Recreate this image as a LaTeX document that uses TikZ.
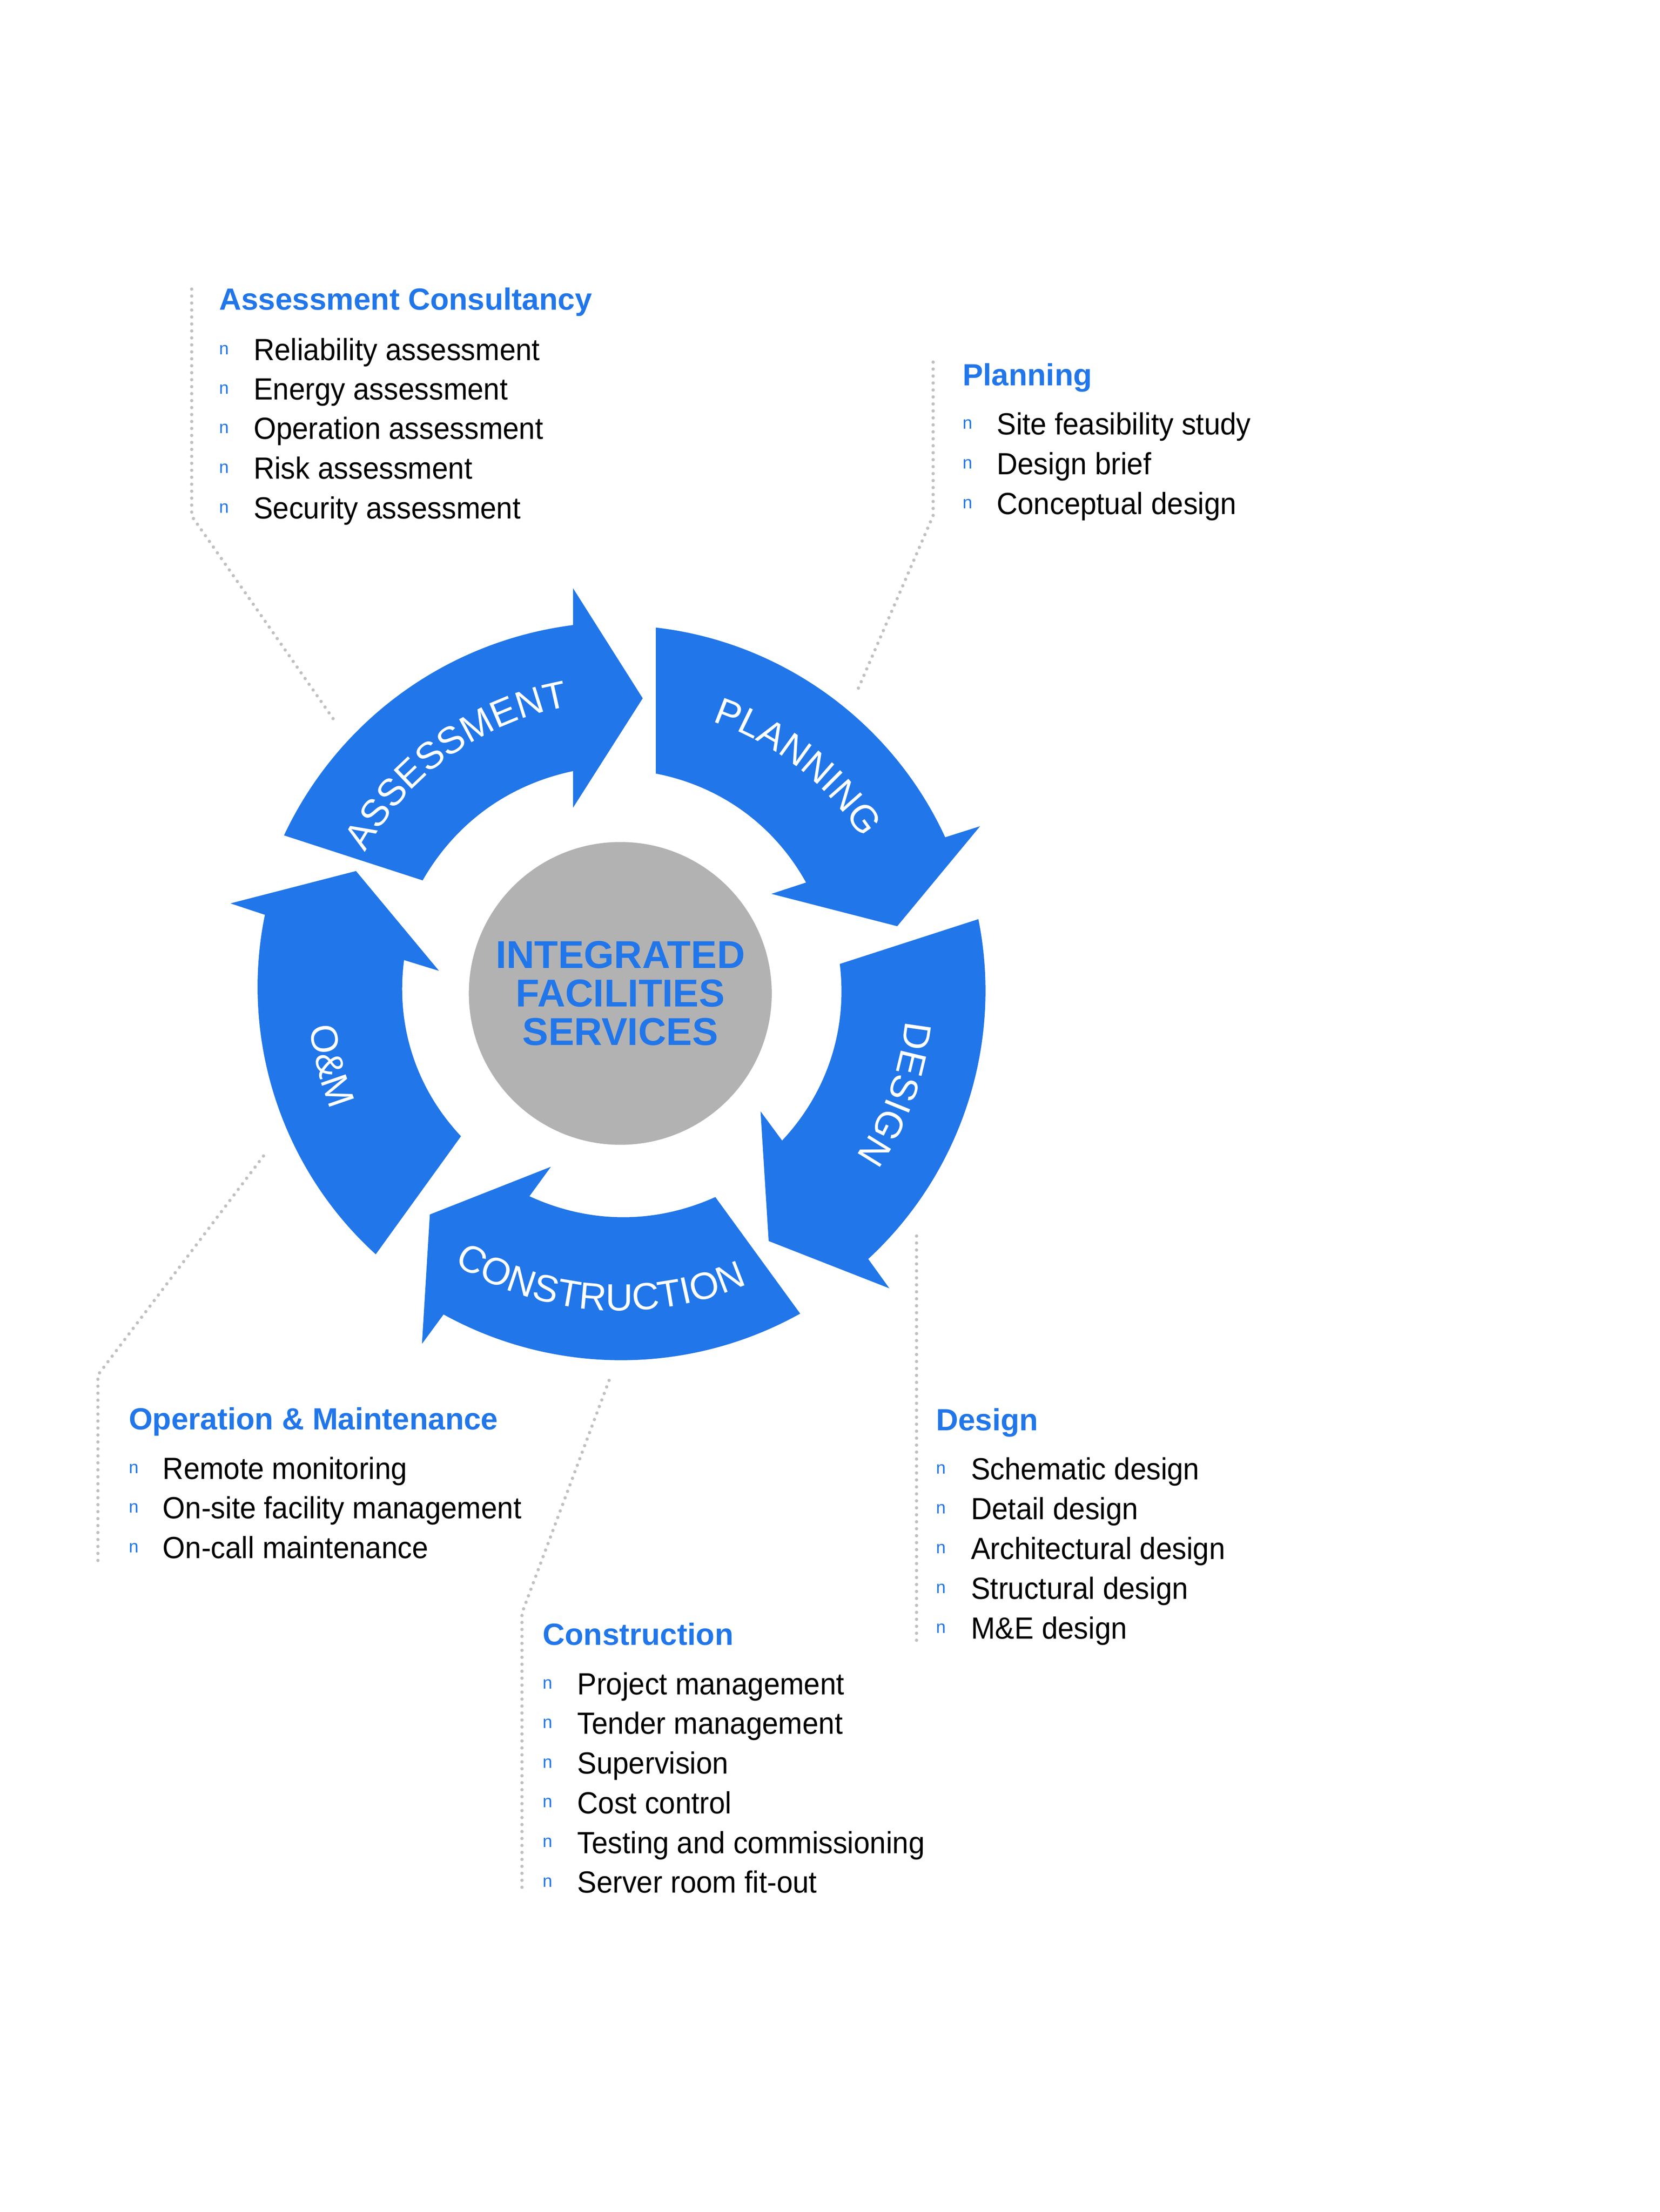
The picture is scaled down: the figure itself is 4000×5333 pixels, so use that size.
\documentclass[tikz,border=0pt]{standalone}
\usepackage{fontspec}
\setmainfont{Liberation Sans}
\newfontfamily\itemfam{Liberation Sans}[FakeStretch=0.945]
\usetikzlibrary{decorations.text}
\definecolor{ifsblue}{RGB}{33,118,233}
\definecolor{ifsgray}{RGB}{178,178,178}
\definecolor{dotgray}{RGB}{192,192,192}
\newcommand\itemfont{\itemfam\fontsize{10.5}{12}\selectfont}
\newcommand\ttlfont{\bfseries\fontsize{10.5}{12}\selectfont}
\newcommand\bulfont{\fontsize{6}{7}\selectfont}
\newcommand\hubfont{\bfseries\fontsize{13.3}{13.16}\selectfont}
\newcommand\arcfont{\fontsize{13}{14}\selectfont}
\begin{document}
\begin{tikzpicture}[x=0.05mm, y=0.05mm,
  item/.style={anchor=base west, inner sep=0pt, font=\itemfont, text=black},
  bul/.style={anchor=base west, inner sep=0pt, font=\bulfont, text=ifsblue},
  ttl/.style={anchor=base west, inner sep=0pt, font=\ttlfont, text=ifsblue},
  arrowshape/.style={fill=ifsblue, draw=none},
  arcin/.style={bend left=#1, looseness=0.91},
  arcout/.style={bend right=#1, looseness=0.91},
  leader/.style={draw=dotgray, line width=1.14pt, line cap=round, dash pattern=on 0pt off 2.39pt},
  hub/.style={circle, fill=ifsgray, minimum size=36.5mm, inner sep=0pt, align=center, text=ifsblue, font=\hubfont},
  arclabel/.style={decorate, decoration={text along path, text={|\arcfont|#1}, text color=white, text align=center}}
]
\fill[white] (0,0) rectangle (4000,-5333);
\useasboundingbox (0,0) rectangle (4000,-5333);
\coordinate (C) at (1495,-2395);

% ---- arrows ----
% Assessment
\fill[arrowshape] (684.5,-2014) -- (1018.6,-2122.5) to[arcin=24.1] (1381,-1859) -- (1381,-1947.5) -- (1549,-1683.5) -- (1381,-1418) -- (1381,-1507) to[arcout=28.75] (684.5,-2014) -- cycle;
% Planning
\fill[arrowshape] (1580.6,-1513) -- (1580.6,-1865) to[arcin=25] (1942.7,-2127.7) -- (1859.3,-2155) -- (2162.4,-2233) -- (2362,-1992) -- (2278,-2018.6) to[arcout=29.4] (1580.6,-1513) -- cycle;
% Design
\fill[arrowshape] (2358,-2216) -- (2024,-2324) to[arcin=25] (1885,-2749.8) -- (1833,-2679.4) -- (1852.6,-2992) -- (2143.4,-3106) -- (2092.5,-3035.3) to[arcout=29.3] (2358,-2216) -- cycle;
% Construction
\fill[arrowshape] (1928.5,-3167) -- (1724,-2886) to[arcin=24.5] (1276,-2884) -- (1327.7,-2813) -- (1036,-2928) -- (1017,-3240) -- (1069,-3169) to[arcout=29] (1928.5,-3167) -- cycle;
% O&M
\fill[arrowshape] (905.6,-3024) -- (1111,-2739.4) to[arcin=25.3] (973.8,-2314.6) -- (1058,-2340.6) -- (858,-2100) -- (555.5,-2178) -- (638.5,-2205.5) to[arcout=29.7] (905.6,-3024) -- cycle;

% ---- hub ----
\node[hub] (hub) at (C) {INTEGRATED\\FACILITIES\\SERVICES};

% ---- arrow labels ----
\path[arclabel=ASSESSMENT] ([shift={(170.6:703)}]C) arc[start angle=170.6, end angle=80.6, radius=703];
\path[arclabel=PLANNING] ([shift={(97:692)}]C) arc[start angle=97, end angle=7, radius=692];
\path[arclabel=DESIGN] ([shift={(25:690)}]C) arc[start angle=25, end angle=-65, radius=690];
\path[arclabel=CONSTRUCTION] ([shift={(-139:765)}]C) arc[start angle=-139, end angle=-49, radius=765];
\path[arclabel={O{\&}M}] ([shift={(149:752)}]C) arc[start angle=149, end angle=239, radius=752];

% ---- Assessment Consultancy ----
\node[ttl] (tA) at (527,-747) {Assessment Consultancy};
\node[bul] (bA1) at (527,-855) {n};
\node[bul] (bA2) at (527,-949.4) {n};
\node[bul] (bA3) at (527,-1044.5) {n};
\node[bul] (bA4) at (527,-1140.5) {n};
\node[bul] (bA5) at (527,-1236.4) {n};
\node[item] (iA1) at (610,-869) {Reliability assessment};
\node[item] (iA2) at (610,-963.4) {Energy assessment};
\node[item] (iA3) at (610,-1058.5) {Operation assessment};
\node[item] (iA4) at (610,-1154.5) {Risk assessment};
\node[item] (iA5) at (610,-1250.4) {Security assessment};

% ---- Planning ----
\node[ttl] (tP) at (2319,-929) {Planning};
\node[bul] (bP1) at (2319,-1034) {n};
\node[bul] (bP2) at (2319,-1130) {n};
\node[bul] (bP3) at (2319,-1226) {n};
\node[item] (iP1) at (2401,-1048) {Site feasibility study};
\node[item] (iP2) at (2401,-1144) {Design brief};
\node[item] (iP3) at (2401,-1240) {Conceptual design};

% ---- Design ----
\node[ttl] (tD) at (2255,-3449) {Design};
\node[bul] (bD1) at (2255,-3553) {n};
\node[bul] (bD2) at (2255,-3649) {n};
\node[bul] (bD3) at (2255,-3745) {n};
\node[bul] (bD4) at (2255,-3841) {n};
\node[bul] (bD5) at (2255,-3937) {n};
\node[item] (iD1) at (2339,-3567) {Schematic design};
\node[item] (iD2) at (2339,-3663) {Detail design};
\node[item] (iD3) at (2339,-3759) {Architectural design};
\node[item] (iD4) at (2339,-3855) {Structural design};
\node[item] (iD5) at (2339,-3951) {M\&E design};

% ---- Construction ----
\node[ttl] (tK) at (1307,-3966) {Construction};
\node[bul] (bK1) at (1307,-4072) {n};
\node[bul] (bK2) at (1307,-4167) {n};
\node[bul] (bK3) at (1307,-4262.5) {n};
\node[bul] (bK4) at (1307,-4358) {n};
\node[bul] (bK5) at (1307,-4454) {n};
\node[bul] (bK6) at (1307,-4549) {n};
\node[item] (iK1) at (1390,-4086) {Project management};
\node[item] (iK2) at (1390,-4181) {Tender management};
\node[item] (iK3) at (1390,-4276.5) {Supervision};
\node[item] (iK4) at (1390,-4372) {Cost control};
\node[item] (iK5) at (1390,-4468) {Testing and commissioning};
\node[item] (iK6) at (1390,-4563) {Server room fit-out};

% ---- Operation & Maintenance ----
\node[ttl] (tM) at (309,-3447) {Operation \& Maintenance};
\node[bul] (bM1) at (309,-3552) {n};
\node[bul] (bM2) at (309,-3647) {n};
\node[bul] (bM3) at (309,-3743) {n};
\node[item] (iM1) at (391,-3566) {Remote monitoring};
\node[item] (iM2) at (391,-3661) {On-site facility management};
\node[item] (iM3) at (391,-3757) {On-call maintenance};

% ---- dotted leaders ----
\coordinate (lA1) at (462,-697);
\coordinate (lA2) at (462,-1244);
\coordinate (lA3) at (808,-1740);
\draw[leader] (lA1) -- (lA2) -- (lA3);
\coordinate (lP1) at (2249,-873);
\coordinate (lP2) at (2249,-1243);
\coordinate (lP3) at (2065,-1668);
\draw[leader] (lP1) -- (lP2) -- (lP3);
\coordinate (lD1) at (2209,-2980);
\coordinate (lD2) at (2209,-3956);
\draw[leader] (lD1) -- (lD2);
\coordinate (lK1) at (1468,-3328);
\coordinate (lK2) at (1258,-3889);
\coordinate (lK3) at (1258,-4551);
\draw[leader] (lK1) -- (lK2) -- (lK3);
\coordinate (lM1) at (635,-2787);
\coordinate (lM2) at (236,-3315);
\coordinate (lM3) at (236,-3767);
\draw[leader] (lM1) -- (lM2) -- (lM3);
\end{tikzpicture}
\end{document}
